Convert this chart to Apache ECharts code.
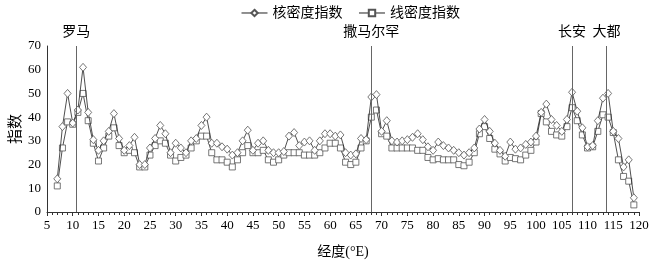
<!DOCTYPE html>
<html><head><meta charset="utf-8">
<script src="https://cdn.jsdelivr.net/npm/echarts@6/dist/echarts.min.js"></script>
<style>html,body{margin:0;padding:0;background:#fff}#c{width:650px;height:261px}</style>
</head><body><div id="c"></div>
<script>
const longitudes = [];
for (let l = 7; l <= 119; l++) longitudes.push(l);
const kernelIndex = [
 14,36,50,37.5,43,61,42,30.5,26,30,34,41.5,31,26,28,31.5,20,20,27,31,
 36.5,33,25,29,27,25,30,31,36.5,40,29,29,27.5,26.5,24,25,30,34.5,26,29,
 30,26,25,25,25.5,32,33.5,28,29.5,30,26,30,33,33,32,32.5,25,24,24.5,31,
 30.5,48.5,49.5,34,38.5,30,29.5,30,30.5,31.5,33,30.5,27.5,26,29.5,28,27,26,25,24,
 25,27,35,39,34,29,26,23.5,29.5,26.5,27,28.5,29.5,32,42,45.5,39,36.5,34,39,
 50.5,42.5,35.5,27.5,28,38.5,48,50,34,31,19,22,6
];
const lineIndex = [
 11,27,38,37,42,50,38.5,29,21.5,27,32,35.5,28,25,26,25,19,19,24,28,
 30,29,24,21.5,23,24,27,30,32,32,25,22,22,21,19,22,25,28,25,25,
 26,22,21,22,24,25,25,25,24,24,24,25,27,29,29,27,21,20,21,27,
 30,40,43,33,32,27,27,27,27,27,26,26,23,22,22.5,22,22,22,20,19.5,
 21,25,33,36,31,26.5,24.5,21.5,23,22.5,22,24,26,29.5,41.5,38,34,32.5,32,36,
 44,38.5,32.5,27,27.5,34,41,40,33.5,22,15,13,3
];
const refNames = ['罗马','撒马尔罕','长安','大都'];
const refLons = [10.7, 68, 107, 113.7];
const seriesNames = ['核密度指数','线密度指数'];

const kData = longitudes.map((x,i)=>[x,kernelIndex[i]]);
const lData = longitudes.map((x,i)=>[x,lineIndex[i]]);
const serif = '"Liberation Serif","Times New Roman","Noto Sans CJK SC",serif';

const chart = echarts.init(document.getElementById('c'), null, {renderer:'canvas'});
chart.setOption({
  animation:false,
  backgroundColor:'#fff',
  textStyle:{fontFamily:serif,color:'#000'},
  legend:{
    top:1, left:236, itemWidth:26, itemHeight:8, itemGap:16,
    lineStyle:{width:1},
    textStyle:{fontFamily:serif,fontSize:14,color:'#000'},
    data:seriesNames
  },
  grid:{left:47,right:11,top:46,bottom:49,containLabel:false,outerBoundsMode:'none'},
  xAxis:{
    type:'value', min:5, max:120, interval:5,
    name:'经度(°E)', nameLocation:'middle', nameGap:33, nameMoveOverlap:false,
    nameTextStyle:{fontFamily:serif,fontSize:14,color:'#000'},
    axisLine:{lineStyle:{color:'#333',width:1}},
    axisTick:{show:true,length:4,lineStyle:{color:'#333'}},
    minorTick:{show:true,splitNumber:5,length:3,lineStyle:{color:'#333'}},
    axisLabel:{fontFamily:serif,fontSize:13,color:'#000',margin:7},
    splitLine:{show:false}
  },
  yAxis:{
    type:'value', min:0, max:70, interval:10,
    name:'指数', nameLocation:'middle', nameGap:23, nameRotate:90, nameMoveOverlap:false,
    nameTextStyle:{fontFamily:serif,fontSize:15,color:'#000'},
    axisLine:{show:true,lineStyle:{color:'#333',width:1}},
    axisTick:{show:false},
    axisLabel:{fontFamily:serif,fontSize:13,color:'#000',margin:6},
    splitLine:{show:false}
  },
  series:[
    {
      name:seriesNames[1], type:'line', data:lData,
      symbol:'rect', symbolSize:6, showAllSymbol:true,
      lineStyle:{color:'#222',width:0.8},
      itemStyle:{color:'#fff',borderColor:'#555',borderWidth:0.8},
      z:2
    },
    {
      name:seriesNames[0], type:'line', data:kData,
      symbol:'diamond', symbolSize:[7,8], showAllSymbol:true,
      lineStyle:{color:'#222',width:0.8},
      itemStyle:{color:'#fff',borderColor:'#555',borderWidth:0.8},
      z:3,
      markLine:{
        silent:true, symbol:['none','none'],
        lineStyle:{color:'#666',width:1,type:'solid'},
        label:{show:true,position:'end',distance:7,fontFamily:serif,fontSize:14,color:'#000',formatter:p=>p.name},
        data:refLons.map((x,i)=>[{name:refNames[i],coord:[x,0]},{coord:[x,70]}])
      }
    }
  ]
});
</script></body></html>
